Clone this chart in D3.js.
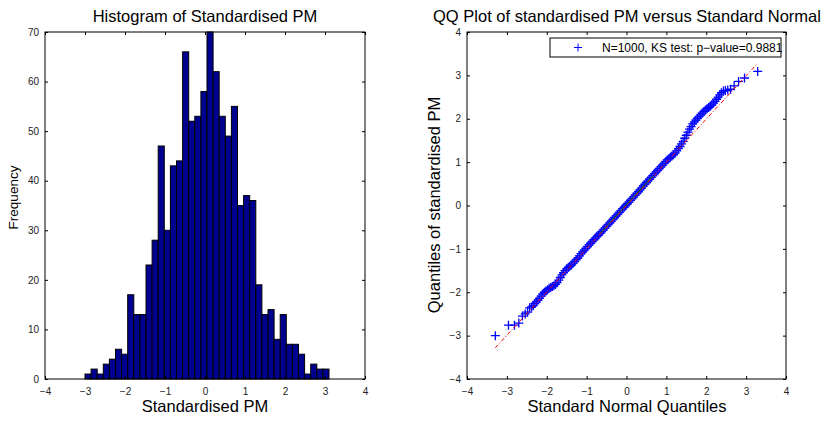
<!DOCTYPE html>
<html>
<head>
<meta charset="utf-8">
<script src="https://cdn.jsdelivr.net/npm/d3@7"></script>
<style>
  body { margin: 0; background: #fff; }
  svg { font-family: "Liberation Sans", Arial, sans-serif; }
</style>
</head>
<body>
<div id="grafico"></div>
<script>
// histogram: 40 bins between the sample min and max
var binStart = -3.0
var binEnd = 3.1
var counts = [1, 2, 1, 3, 4, 6, 5, 17, 13, 13,
              23, 28, 47, 30, 43, 44, 66, 52, 53, 58,
              70, 62, 53, 49, 55, 35, 37, 36, 19, 13,
              14, 8, 13, 7, 7, 5, 1, 3, 2, 2]

// qq plot: theoretical normal quantiles vs sample quantiles
var qqTheo = [-3.29, -2.96, -2.81, -2.70, -2.61, -2.54, -2.48, -2.43, -2.38, -2.34,
  -2.30, -2.26, -2.22, -2.18, -2.14, -2.10, -2.06, -2.02, -1.98, -1.94,
  -1.90, -1.86, -1.82, -1.78, -1.74, -1.70, -1.66, -1.62, -1.58, -1.54,
  -1.50, -1.46, -1.42, -1.38, -1.34, -1.30, -1.26, -1.22, -1.18, -1.14,
  -1.10, -1.06, -1.02, -0.98, -0.94, -0.90, -0.86, -0.82, -0.78, -0.74,
  -0.70, -0.66, -0.62, -0.58, -0.54, -0.50, -0.46, -0.42, -0.38, -0.34,
  -0.30, -0.26, -0.22, -0.18, -0.14, -0.10, -0.06, -0.02, 0.02, 0.06,
  0.10, 0.14, 0.18, 0.22, 0.26, 0.30, 0.34, 0.38, 0.42, 0.46,
  0.50, 0.54, 0.58, 0.62, 0.66, 0.70, 0.74, 0.78, 0.82, 0.86,
  0.90, 0.94, 0.98, 1.02, 1.06, 1.10, 1.14, 1.18, 1.22, 1.26,
  1.30, 1.34, 1.38, 1.42, 1.46, 1.50, 1.54, 1.58, 1.62, 1.66,
  1.70, 1.74, 1.78, 1.82, 1.86, 1.90, 1.94, 1.98, 2.02, 2.06,
  2.10, 2.14, 2.18, 2.22, 2.26, 2.30, 2.34, 2.38, 2.43, 2.48,
  2.54, 2.61, 2.70, 2.81, 2.96, 3.29]
var qqSample = [-3.00, -2.76, -2.76, -2.71, -2.55, -2.50, -2.46, -2.36, -2.34, -2.31,
  -2.26, -2.22, -2.18, -2.14, -2.09, -2.04, -2.00, -1.97, -1.94, -1.91,
  -1.89, -1.87, -1.85, -1.82, -1.78, -1.72, -1.66, -1.60, -1.55, -1.50,
  -1.46, -1.43, -1.40, -1.37, -1.33, -1.29, -1.25, -1.21, -1.16, -1.11,
  -1.07, -1.03, -0.99, -0.95, -0.91, -0.87, -0.83, -0.79, -0.75, -0.71,
  -0.68, -0.64, -0.60, -0.56, -0.52, -0.48, -0.44, -0.40, -0.36, -0.32,
  -0.28, -0.24, -0.20, -0.16, -0.12, -0.08, -0.04, 0.00, 0.04, 0.08,
  0.12, 0.16, 0.20, 0.24, 0.28, 0.32, 0.36, 0.40, 0.45, 0.49,
  0.53, 0.57, 0.61, 0.65, 0.69, 0.73, 0.77, 0.81, 0.85, 0.89,
  0.93, 0.97, 1.01, 1.05, 1.08, 1.11, 1.14, 1.17, 1.21, 1.26,
  1.31, 1.36, 1.42, 1.48, 1.55, 1.62, 1.69, 1.76, 1.82, 1.88,
  1.93, 1.97, 2.01, 2.05, 2.09, 2.13, 2.17, 2.20, 2.23, 2.26,
  2.29, 2.32, 2.36, 2.40, 2.45, 2.50, 2.55, 2.60, 2.64, 2.65,
  2.66, 2.68, 2.76, 2.86, 2.94, 3.09]

// reference line (dash-dot over full range) and quartile segment (solid)
var refLineX = [-3.29, 3.29]
var refLineY = [-3.28, 3.28]
var quartX = [-0.67, 0.67]
var quartY = [-0.65, 0.69]

var legendText = "N=1000, KS test: p\u2212value=0.9881"

var width = 826
    height = 421

var svg = d3.select("#grafico")
  .append("svg")
    .attr("width", width)
    .attr("height", height)

// draw a MATLAB style box: inward ticks on all four sides, labels bottom/left
function drawBox(g, x, y, xTicks, yTicks) {
  var x0 = x.range()[0], x1 = x.range()[1]
  var y0 = y.range()[0], y1 = y.range()[1]

  g.append("g")
    .attr("transform", "translate(0," + y0 + ")")
    .call(d3.axisBottom(x).tickValues(xTicks).tickSize(-3).tickPadding(9).tickSizeOuter(0))
  g.append("g")
    .attr("transform", "translate(0," + y1 + ")")
    .call(d3.axisTop(x).tickValues(xTicks).tickSize(-3).tickFormat("").tickSizeOuter(0))
  g.append("g")
    .attr("transform", "translate(" + x0 + ",0)")
    .call(d3.axisLeft(y).tickValues(yTicks).tickSize(-3).tickPadding(6).tickSizeOuter(0))
  g.append("g")
    .attr("transform", "translate(" + x1 + ",0)")
    .call(d3.axisRight(y).tickValues(yTicks).tickSize(-3).tickFormat("").tickSizeOuter(0))

  g.selectAll(".domain").remove()
  g.selectAll(".tick line").attr("stroke", "#000")
  g.selectAll(".tick text").attr("font-size", "10px").attr("fill", "#222")
    .attr("font-family", "Liberation Sans, Arial, sans-serif")

  g.append("rect")
    .attr("x", x0).attr("y", y1)
    .attr("width", x1 - x0).attr("height", y0 - y1)
    .attr("fill", "none").attr("stroke", "#000").attr("stroke-width", 1)
}

// ---------------- histogram ----------------
var hx = d3.scaleLinear().domain([-4, 4]).range([45, 365])
var hy = d3.scaleLinear().domain([0, 70]).range([379, 32])
var binW = (binEnd - binStart) / counts.length

var h = svg.append("g")

h.selectAll("rect.bar")
  .data(counts)
  .enter()
  .append("rect")
    .attr("class", "bar")
    .attr("x", function(d, i) { return hx(binStart + i * binW) })
    .attr("width", function(d, i) { return hx(binStart + (i + 1) * binW) - hx(binStart + i * binW) })
    .attr("y", function(d) { return hy(d) })
    .attr("height", function(d) { return hy(0) - hy(d) })
    .attr("fill", "#00008f")
    .attr("stroke", "#000")
    .attr("stroke-width", 1)

drawBox(h, hx, hy, d3.range(-4, 5, 1), d3.range(0, 80, 10))

h.append("text")
  .attr("x", 205).attr("y", 22)
  .attr("text-anchor", "middle")
  .attr("font-size", "16.5px")
  .text("Histogram of Standardised PM")
h.append("text")
  .attr("x", 205).attr("y", 412)
  .attr("text-anchor", "middle")
  .attr("font-size", "16.5px")
  .text("Standardised PM")
h.append("text")
  .attr("transform", "translate(18,197.5) rotate(-90)")
  .attr("text-anchor", "middle")
  .attr("font-size", "13.5px")
  .text("Frequency")

// ---------------- qq plot ----------------
var qx = d3.scaleLinear().domain([-4, 4]).range([467, 786])
var qy = d3.scaleLinear().domain([-4, 4]).range([379, 32])

var q = svg.append("g")

var pts = qqTheo.map(function(v, i) { return [v, qqSample[i]] })
var m = 4.5

q.selectAll("path.pt")
  .data(pts)
  .enter()
  .append("path")
    .attr("class", "pt")
    .attr("d", function(d) {
      var cx = qx(d[0]), cy = qy(d[1])
      return "M" + (cx - m) + "," + cy + "H" + (cx + m) + "M" + cx + "," + (cy - m) + "V" + (cy + m)
    })
    .attr("stroke", "#0000ff")
    .attr("stroke-width", 1.3)
    .attr("fill", "none")

q.append("line")
  .attr("x1", qx(quartX[0])).attr("y1", qy(quartY[0]))
  .attr("x2", qx(quartX[1])).attr("y2", qy(quartY[1]))
  .attr("stroke", "#008000").attr("stroke-width", 1)

q.append("line")
  .attr("x1", qx(refLineX[0])).attr("y1", qy(refLineY[0]))
  .attr("x2", qx(refLineX[1])).attr("y2", qy(refLineY[1]))
  .attr("stroke", "#ff0000").attr("stroke-width", 1)
  .attr("stroke-dasharray", "4,2,1,2")

drawBox(q, qx, qy, d3.range(-4, 5, 1), d3.range(-4, 5, 1))

// legend
var lg = q.append("g")
lg.append("rect")
  .attr("x", 550).attr("y", 38)
  .attr("width", 231).attr("height", 19)
  .attr("fill", "#fff").attr("stroke", "#000").attr("stroke-width", 1)
lg.append("path")
  .attr("d", "M574,47.5H582M578,43.5V51.5")
  .attr("stroke", "#0000ff").attr("stroke-width", 1)
lg.append("text")
  .attr("x", 602).attr("y", 52)
  .attr("font-size", "12px")
  .text(legendText)

q.append("text")
  .attr("x", 627).attr("y", 22)
  .attr("text-anchor", "middle")
  .attr("font-size", "16.5px")
  .text("QQ Plot of standardised PM versus Standard Normal")
q.append("text")
  .attr("x", 627).attr("y", 412)
  .attr("text-anchor", "middle")
  .attr("font-size", "16.5px")
  .text("Standard Normal Quantiles")
q.append("text")
  .attr("transform", "translate(440,205) rotate(-90)")
  .attr("text-anchor", "middle")
  .attr("font-size", "16.5px")
  .text("Quantiles of standardised PM")
</script>
</body>
</html>
